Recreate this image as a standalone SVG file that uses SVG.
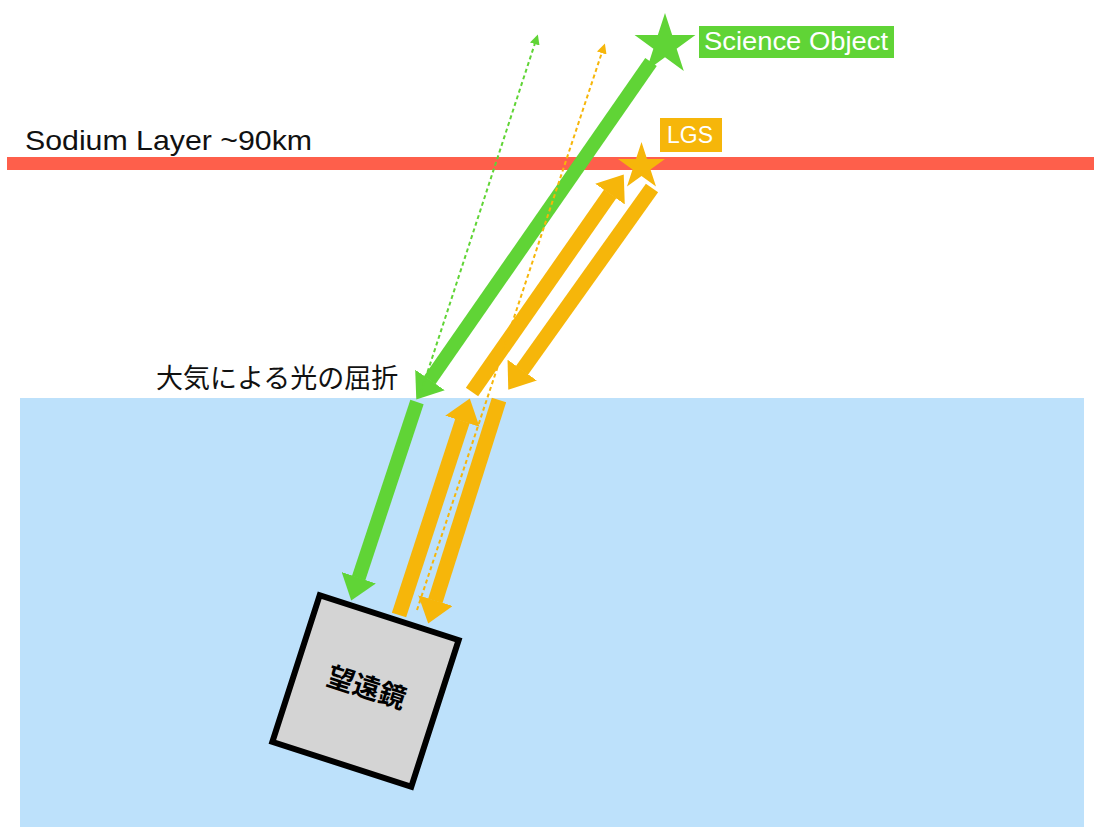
<svg xmlns="http://www.w3.org/2000/svg" width="1094" height="827" viewBox="0 0 1094 827">
  <style>
    .lbl { font-family: "Liberation Sans", "Noto Sans", sans-serif; }
    .jp { font-family: "Noto Sans CJK JP", sans-serif; }
    .thick { stroke-width: 14; stroke-linecap: butt; fill: none; }
    .dash { stroke-width: 2; stroke-dasharray: 4 3; fill: none; }
    .g { stroke: #60d436; }
    .o { stroke: #f6b60a; stroke-width: 15; }
  </style>
  <defs>
    <polygon id="star" points="0,-1 0.2245,-0.309 0.951,-0.309 0.3633,0.118 0.5878,0.809 0,0.382 -0.5878,0.809 -0.3633,0.118 -0.951,-0.309 -0.2245,-0.309"/>
    <marker id="hg" viewBox="0 0 24 36" markerWidth="24" markerHeight="36" refX="0.5" refY="18" orient="auto" markerUnits="userSpaceOnUse">
      <path d="M0,0 L24,18 L0,36 z" fill="#60d436"/>
    </marker>
    <marker id="ho" viewBox="0 0 24 36" markerWidth="24" markerHeight="36" refX="0.5" refY="18" orient="auto" markerUnits="userSpaceOnUse">
      <path d="M0,0 L24,18 L0,36 z" fill="#f6b60a"/>
    </marker>
    <marker id="sg" viewBox="0 0 10 10" markerWidth="10" markerHeight="10" refX="0.5" refY="5" orient="auto" markerUnits="userSpaceOnUse">
      <path d="M0,0 L10,5 L0,10 z" fill="#60d436"/>
    </marker>
    <marker id="so" viewBox="0 0 10 10" markerWidth="10" markerHeight="10" refX="0.5" refY="5" orient="auto" markerUnits="userSpaceOnUse">
      <path d="M0,0 L10,5 L0,10 z" fill="#f6b60a"/>
    </marker>
  </defs>

  <rect x="0" y="0" width="1094" height="827" fill="#ffffff"/>

  <g id="sodium-layer">
    <rect x="7" y="157" width="1087" height="13" fill="#fe5f4b"/>
    <text class="lbl" x="25" y="150" font-size="28" textLength="287" lengthAdjust="spacingAndGlyphs" fill="#111">Sodium Layer ~90km</text>
  </g>

  <g id="atmosphere">
    <rect x="20" y="398" width="1064" height="429" fill="#bde1fb"/>
    <text class="jp" x="156" y="388" font-size="27" fill="#111">大気による光の屈折</text>
  </g>

  <g id="telescope" transform="translate(365.5,691) rotate(17.9)">
    <rect x="-73" y="-77" width="146" height="154" fill="#d4d4d4" stroke="#000" stroke-width="6"/>
    <text class="jp" x="0" y="6" font-size="27" font-weight="bold" text-anchor="middle" fill="#000">望遠鏡</text>
  </g>

  <g id="connectors">
    <line class="thick g" x1="651" y1="62" x2="429.7" y2="380.3" marker-end="url(#hg)"/>
    <line class="thick g" x1="417" y1="402" x2="358.6" y2="578.2" marker-end="url(#hg)"/>
    <line class="thick o" x1="472" y1="392" x2="610.3" y2="193.7" marker-end="url(#ho)"/>
    <line class="thick o" x1="652" y1="188" x2="521.9" y2="370.5" marker-end="url(#ho)"/>
    <line class="thick o" x1="399" y1="615" x2="462.5" y2="420.8" marker-end="url(#ho)"/>
    <line class="thick o" x1="499" y1="400" x2="435.3" y2="601.1" marker-end="url(#ho)"/>
    <line class="dash g" x1="421" y1="392" x2="534.9" y2="43.5" marker-end="url(#sg)"/>
    <line class="dash o" x1="417" y1="610" x2="601.9" y2="52.5" marker-end="url(#so)" style="stroke-width:2"/>
  </g>

  <g id="science-object">
    <use href="#star" transform="translate(665,45) scale(32)" fill="#60d436"/>
    <rect x="699" y="26" width="195" height="32" fill="#60d436"/>
    <text class="lbl" x="704" y="50" font-size="25" textLength="184" lengthAdjust="spacingAndGlyphs" fill="#ffffff">Science Object</text>
  </g>

  <g id="lgs">
    <use href="#star" transform="translate(641.5,166.6) scale(24.7)" fill="#f6b60a"/>
    <rect x="660" y="118" width="62" height="34" fill="#f6b60a"/>
    <text class="lbl" x="667" y="143" font-size="23" textLength="46" lengthAdjust="spacingAndGlyphs" fill="#ffffff">LGS</text>
  </g>
</svg>
